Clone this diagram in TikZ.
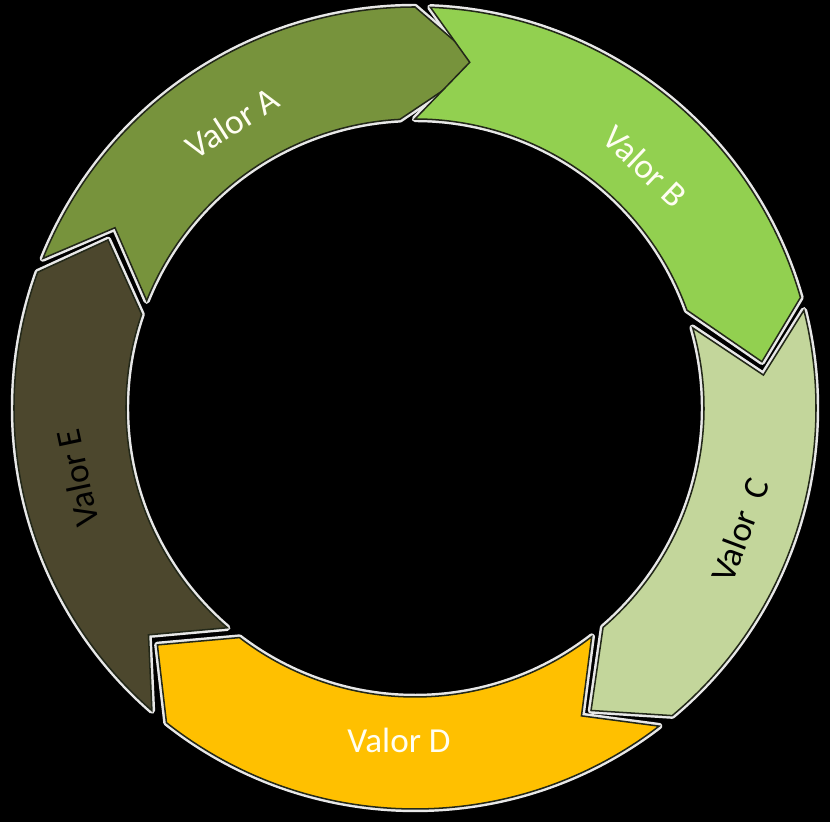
\documentclass[tikz,border=0pt]{standalone}
\usepackage{fontspec}
\setmainfont{Carlito}
\definecolor{colA}{RGB}{119,147,60}
\definecolor{colB}{RGB}{146,208,80}
\definecolor{colC}{RGB}{195,214,155}
\definecolor{colD}{RGB}{255,192,0}
\definecolor{colE}{RGB}{76,71,45}
\definecolor{edgecol}{RGB}{35,40,25}
\definecolor{glowcol}{RGB}{232,232,232}
% segment: #1 tail outer, #2 tail inner, #3 notch, #4 head outer, #5 head inner, #6 tip
\newcommand{\segpath}[6]{(#1:401) arc[start angle=#1, end angle=#4, radius=401] -- (#6:350) -- (#5:289) arc[start angle=#5, end angle=#2, radius=289] -- (#3:350) -- cycle}
\tikzset{
  glow/.style={draw=glowcol, line width=5.5pt, line join=round},
  segfill/.style={fill=#1, draw=edgecol, line width=1.3pt, line join=miter},
  lbl/.style={font=\fontsize{30}{36}\selectfont, inner sep=0pt}
}
\begin{document}
\begin{tikzpicture}[x=0.03cm, y=-0.03cm]
\fill[black] (0,0) rectangle (830,822);
\useasboundingbox (0,0) rectangle (830,822);
\begin{scope}[shift={(415,408)}]
  % glow layer
  \path[glow] \segpath{201.9}{201.8}{211}{270}{267}{281};
  \path[glow] \segpath{272.2}{270}{279}{344}{340.2}{352.4};
  \path[glow] \segpath{345.9}{343.9}{354.6}{410.1}{409.4}{419.8};
  \path[glow] \segpath{52.5}{52.3}{61.6}{128.3}{127.4}{137.4};
  \path[glow] \segpath{131}{130.5}{139.6}{199.8}{198.9}{208.7};
  % segments
  \path[segfill=colA] \segpath{201.9}{201.8}{211}{270}{267}{281};
  \path[segfill=colB] \segpath{272.2}{270}{279}{344}{340.2}{352.4};
  \path[segfill=colC] \segpath{345.9}{343.9}{354.6}{410.1}{409.4}{419.8};
  \path[segfill=colD] \segpath{52.5}{52.3}{61.6}{128.3}{127.4}{137.4};
  \path[segfill=colE] \segpath{131}{130.5}{139.6}{199.8}{198.9}{208.7};
\end{scope}
\node[lbl, text=white!95!yellow, rotate=32.6] (la) at (232,123) {Valor A};
\node[lbl, text=white!95!yellow, rotate=-43.4] (lb) at (645,166) {Valor B};
\node[lbl, text=black, rotate=69.3] (lc) at (740,530) {Valor~ C};
\node[lbl, text=white!95!yellow] (ld) at (399,740) {Valor D};
\node[lbl, text=black, rotate=102] (le) at (77,478) {Valor E};
\end{tikzpicture}
\end{document}
